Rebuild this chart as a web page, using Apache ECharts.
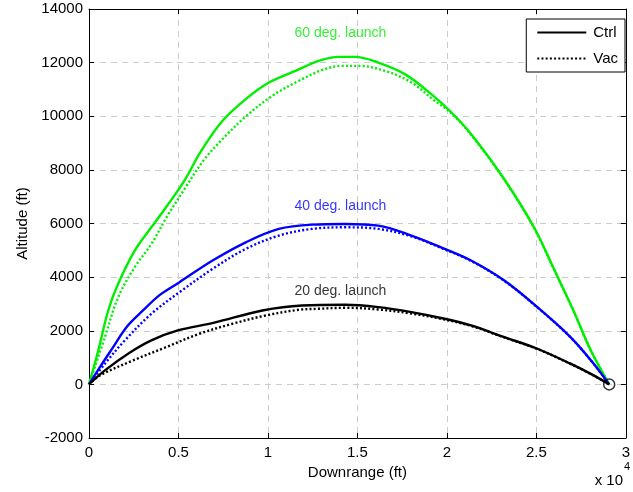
<!DOCTYPE html>
<html><head><meta charset="utf-8">
<script src="https://cdn.jsdelivr.net/npm/echarts@6/dist/echarts.min.js"></script>
<style>html,body{margin:0;padding:0;background:#fff}#c{width:633px;height:492px}</style>
</head><body><div id="c"></div>
<script>
// 60 deg launch
const ctrl60X = [0, 518, 1074, 1630, 2555, 3484, 4406, 5333, 6261, 7463, 8761, 10056, 11540, 12834, 13945, 14872, 16167, 17651, 19129, 20240, 21350, 23207, 24873, 25985, 27095, 28018, 29070];
const ctrl60Y = [0, 1266, 2756, 3750, 4990, 5858, 6700, 7600, 8700, 9830, 10640, 11258, 11693, 12066, 12215, 12215, 12003, 11570, 10825, 10150, 9336, 7650, 5850, 4300, 2720, 1300, 0];
const vac60X = [0, 889, 1630, 2555, 3500, 4350, 5400, 6400, 7463, 8761, 10240, 11723, 13018, 14130, 15056, 16540, 18018, 19318, 20240, 21350, 23207, 24873, 25985, 27095, 28018, 29070];
const vac60Y = [0, 1762, 3251, 4368, 5250, 6250, 7350, 8350, 9150, 9990, 10762, 11321, 11719, 11880, 11880, 11693, 11258, 10576, 10120, 9310, 7630, 5835, 4290, 2715, 1296, 0];
// 40 deg launch
const ctrl40X = [0, 611, 1350, 2094, 3017, 3944, 5056, 6906, 8761, 10612, 12461, 14317, 16167, 18018, 19873, 21350, 23207, 25057, 26907, 28202, 29070];
const ctrl40Y = [0, 645, 1390, 2134, 2756, 3330, 3810, 4618, 5299, 5798, 5958, 5983, 5921, 5549, 5053, 4618, 3873, 2879, 1762, 771, 0];
const vac40X = [0, 889, 2000, 3484, 5056, 6906, 8761, 10612, 12461, 14317, 16167, 18018, 19873, 21350, 23207, 25057, 26907, 28202, 29070];
const vac40Y = [0, 770, 1638, 2633, 3437, 4308, 5053, 5549, 5798, 5858, 5798, 5520, 5035, 4605, 3865, 2872, 1757, 768, 0];
// 20 deg launch
const ctrl20X = [0, 889, 2185, 3484, 4961, 7000, 9687, 11908, 14317, 16167, 18018, 19873, 21350, 23207, 25057, 26907, 28202, 29070];
const ctrl20Y = [0, 521, 1143, 1638, 2011, 2300, 2756, 2942, 2968, 2879, 2693, 2447, 2197, 1762, 1329, 771, 335, 0];
const vac20X = [0, 611, 2461, 4317, 6167, 8017, 9873, 11723, 12834, 14317, 16167, 18018, 19873, 21350, 23207, 25057, 26907, 28202, 29070];
const vac20Y = [0, 335, 894, 1390, 1888, 2260, 2570, 2782, 2819, 2856, 2793, 2640, 2420, 2180, 1750, 1320, 765, 332, 0];
// landing point
const landX = [29070];
const landY = [0];
// annotations
const labelTexts = ['60 deg. launch', '40 deg. launch', '20 deg. launch'];
const labelX = [14050, 14050, 14050];
const labelY = [13100, 6630, 3460];
const labelColors = ['#00ee00', '#0000ff', '#000000'];
const legendNames = ['Ctrl', 'Vac'];

const zip = (a, b) => a.map((v, i) => [v, b[i]]);
const green = '#00ee00', blue = '#0000ff', black = '#000000';
const font = 'Liberation Sans, Arial, sans-serif';
const dotted = [2, 2.2];

function lineSeries(name, xs, ys, color, dash) {
  return {
    type: 'line', name: name, data: zip(xs, ys), symbol: 'none', showSymbol: false, smooth: 0.35,
    lineStyle: { color: color, width: 2.4, type: dash ? dotted : 'solid' },
    itemStyle: { color: color }, z: dash ? 3 : 4, silent: true
  };
}

const chart = echarts.init(document.getElementById('c'), null, { renderer: 'canvas' });
const axisCommon = {
  axisLine: { show: true, onZero: false, lineStyle: { color: '#000', width: 1 } },
  axisTick: { show: true, inside: true, length: 5, lineStyle: { color: '#000' } },
};
chart.setOption({
  backgroundColor: '#fff',
  animation: false,
  grid: { left: 89, right: 4, top: 9, bottom: 54, containLabel: false },
  legend: {
    data: legendNames,
    right: 8, top: 19, orient: 'vertical',
    borderColor: '#000', borderWidth: 1, backgroundColor: '#fff', borderRadius: 0,
    padding: [6, 7, 6, 10], itemGap: 11, itemWidth: 49, itemHeight: 14,
    itemStyle: { color: 'rgba(0,0,0,0)', borderWidth: 0, borderColor: 'rgba(0,0,0,0)' },
    textStyle: { fontFamily: font, fontSize: 15, color: '#000', padding: [0, 0, 0, 2] }
  },
  xAxis: [{
    type: 'value', min: 0, max: 30000, interval: 5000, position: 'bottom',
    name: 'Downrange (ft)', nameLocation: 'middle', nameGap: 19,
    nameTextStyle: { fontFamily: font, fontSize: 15, color: '#000' },
    axisLabel: { fontFamily: font, fontSize: 15, color: '#000', margin: 7,
      formatter: v => String(v / 10000) },
    splitLine: { show: true, lineStyle: { color: '#cccccc', type: [6, 5] } },
    ...axisCommon
  }, {
    type: 'value', min: 0, max: 30000, interval: 5000, position: 'top',
    axisLabel: { show: false }, splitLine: { show: false }, ...axisCommon
  }],
  yAxis: [{
    type: 'value', min: -2000, max: 14000, interval: 2000, position: 'left',
    name: 'Altitude (ft)', nameLocation: 'middle', nameGap: 59, nameRotate: 90,
    nameTextStyle: { fontFamily: font, fontSize: 15, color: '#000' },
    axisLabel: { fontFamily: font, fontSize: 15, color: '#000', margin: 6,
      formatter: v => String(v) },
    splitLine: { show: true, lineStyle: { color: '#cccccc', type: [6, 5] } },
    ...axisCommon
  }, {
    type: 'value', min: -2000, max: 14000, interval: 2000, position: 'right',
    axisLabel: { show: false }, splitLine: { show: false }, ...axisCommon
  }],
  graphic: [{
    type: 'text', right: 10, bottom: 4,
    style: { text: 'x 10', font: '15px ' + font, fill: '#000' }
  }, {
    type: 'text', right: 3, bottom: 20,
    style: { text: '4', font: '11px ' + font, fill: '#000' }
  }],
  series: [
    lineSeries('c60', ctrl60X, ctrl60Y, green, false),
    lineSeries('v60', vac60X, vac60Y, green, true),
    lineSeries('c40', ctrl40X, ctrl40Y, blue, false),
    lineSeries('v40', vac40X, vac40Y, blue, true),
    lineSeries('c20', ctrl20X, ctrl20Y, black, false),
    lineSeries('v20', vac20X, vac20Y, black, true),
    { type: 'line', name: legendNames[0], data: [], symbol: 'none', lineStyle: { color: black, width: 2.4, type: 'solid' }, itemStyle: { color: black } },
    { type: 'line', name: legendNames[1], data: [], symbol: 'none', lineStyle: { color: black, width: 2.4, type: dotted }, itemStyle: { color: black } },
    {
      type: 'scatter', name: 'land', data: zip(landX, landY), symbol: 'circle', symbolSize: 11,
      itemStyle: { color: 'rgba(0,0,0,0)', borderColor: '#000', borderWidth: 1.5 }, z: 6, silent: true
    },
    {
      type: 'scatter', name: 'labels', symbolSize: 0, silent: true, z: 7,
      data: labelTexts.map((t, i) => ({
        value: [labelX[i], labelY[i]],
        label: { show: true, position: 'inside', formatter: t, color: labelColors[i],
          fontFamily: font, fontSize: 14 }
      }))
    }
  ]
});
</script></body></html>
